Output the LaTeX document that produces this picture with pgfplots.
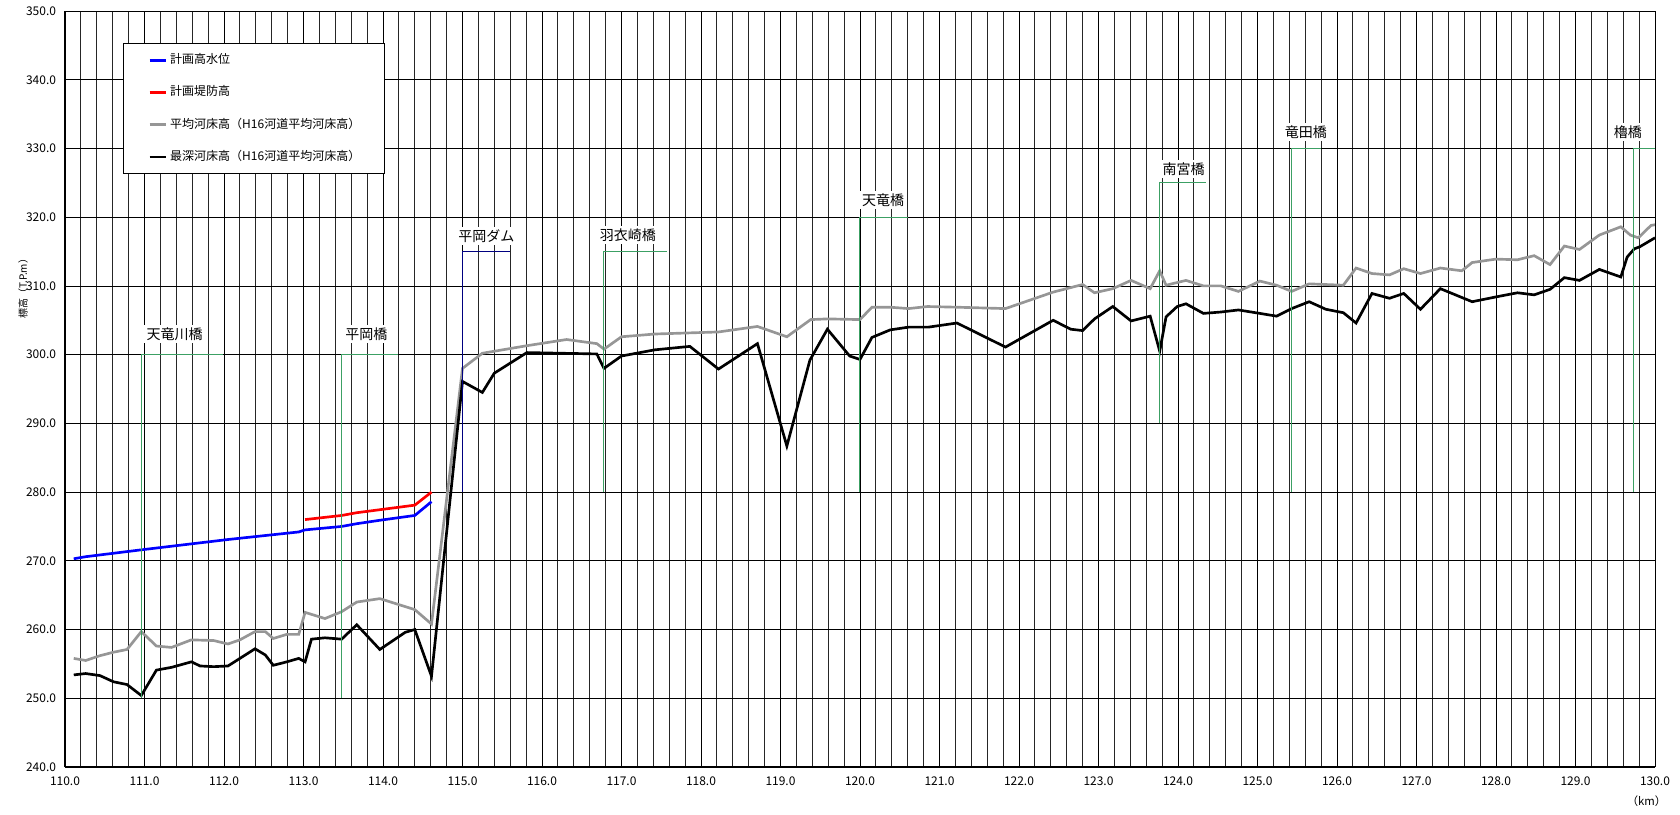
\documentclass[border=0pt]{standalone}
\usepackage{fontspec}
\setmainfont{Noto Sans CJK JP}
\usepackage{pgfplots}
\pgfplotsset{compat=1.18}
\definecolor{bedgray}{RGB}{150,150,150}
\definecolor{bridgegreen}{RGB}{60,160,100}
\definecolor{damnavy}{RGB}{0,0,128}

\begin{document}
\begin{tikzpicture}
\path[use as bounding box] (-48.75pt,-35.25pt) rectangle (1211.25pt,575.25pt);
\begin{axis}[
  scale only axis, width=1192.5pt, height=567pt,
  xmin=110, xmax=130, ymin=240, ymax=350,
  xtick={110,111,...,130}, minor x tick num=4,
  ytick={240,250,...,350},
  xmajorgrids, xminorgrids, ymajorgrids,
  major grid style={black, line width=0.6pt},
  minor grid style={black!85, line width=0.65pt},
  axis x line*=bottom, axis y line*=left,
  axis line style={black, line width=1.2pt, -},
  tick style={draw=none},
  xticklabel={\pgfmathprintnumber[fixed,fixed zerofill,precision=1,assume math mode=true]{\tick}},
  yticklabel={\pgfmathprintnumber[fixed,fixed zerofill,precision=1,assume math mode=true]{\tick}},
  ticklabel style={font=\fontsize{9}{10}\selectfont},
  xticklabel style={anchor=north, inner sep=0pt, yshift=-7.2pt},
  yticklabel style={anchor=east, inner sep=0pt, xshift=-6.5pt},
  xlabel={（km）},
  every axis x label/.style={at={(axis description cs:1,0)}, anchor=east, xshift=12pt, yshift=-25.5pt, font=\fontsize{8.5}{10}\selectfont},
  ylabel={標高（T.P.m）},
  every axis y label/.style={at={(axis description cs:-0.0264,0.636)}, rotate=90, anchor=center, font=\fontsize{7.5}{9}\selectfont},
  legend cell align=left,
  legend image code/.code={\draw[#1, line width=2pt] (0pt,0pt) -- (12pt,0pt);},
  legend style={at={(axis cs:110.73,345.34)}, anchor=north west,
    draw=black, line width=0.75pt, fill=white,
    font=\fontsize{9}{11}\selectfont,
    inner xsep=18.5pt, inner ysep=8pt, row sep=15.2pt, column sep=2.5pt,
    nodes={inner sep=0pt, text height=7pt, text depth=2pt}},
]

% 計画高水位
\addplot[blue, line width=2pt] coordinates {
(110.11,270.3) (110.26,270.6) (110.96,271.6) (112.05,273.1) (112.94,274.2)
(113.02,274.5) (113.48,275.0) (113.67,275.4) (113.96,275.9) (114.40,276.6)
(114.61,278.6)};
\addlegendentry{計画高水位}

% 計画堤防高
\addplot[red, line width=2pt] coordinates {
(113.02,276.0) (113.48,276.6) (113.67,277.0) (114.40,278.1) (114.61,280.0)};
\addlegendentry{計画堤防高}

% 平均河床高
\addplot[bedgray, line width=2pt] coordinates {
(110.11,255.8) (110.26,255.5) (110.44,256.2) (110.61,256.7) (110.78,257.1)
(110.96,259.7) (111.15,257.6) (111.34,257.4) (111.59,258.5) (111.87,258.4)
(112.05,257.9) (112.20,258.5) (112.39,259.7) (112.52,259.7) (112.62,258.7)
(112.79,259.3) (112.94,259.3) (113.02,262.5) (113.27,261.6) (113.48,262.6)
(113.67,264.0) (113.96,264.5) (114.40,262.9) (114.61,260.8) (115.00,298.0)
(115.25,300.2) (115.81,301.3) (116.31,302.2) (116.69,301.6) (116.78,300.8)
(117.00,302.6) (117.42,303.0) (118.22,303.3) (118.71,304.1) (119.08,302.6)
(119.38,305.1) (119.59,305.2) (120.00,305.1) (120.15,306.9) (120.38,306.9)
(120.61,306.7) (120.85,307.0) (121.22,306.9) (121.83,306.7) (122.43,309.1)
(122.80,310.2) (122.95,309.0) (123.18,309.6) (123.41,310.8) (123.65,309.6)
(123.77,312.2) (123.85,310.1) (124.10,310.8) (124.32,310.0) (124.54,310.0)
(124.76,309.2) (125.03,310.7) (125.24,310.1) (125.43,309.2) (125.65,310.3)
(125.86,310.2) (126.08,310.1) (126.24,312.6) (126.44,311.8) (126.66,311.6)
(126.84,312.5) (127.05,311.8) (127.30,312.6) (127.57,312.2) (127.70,313.4)
(128.00,313.9) (128.27,313.8) (128.48,314.4) (128.68,313.1) (128.86,315.8)
(129.05,315.3) (129.30,317.4) (129.57,318.6) (129.69,317.4) (129.79,317.0)
(129.95,318.8) (130.00,318.9)};
\addlegendentry{平均河床高（H16河道平均河床高）}

% 最深河床高
\addplot[black, line width=2pt] coordinates {
(110.11,253.4) (110.26,253.6) (110.44,253.3) (110.61,252.4) (110.78,252.0)
(110.96,250.4) (111.15,254.1) (111.34,254.5) (111.59,255.3) (111.70,254.7)
(111.87,254.6) (112.05,254.7) (112.20,255.8) (112.39,257.2) (112.52,256.3)
(112.62,254.8) (112.79,255.3) (112.94,255.8) (113.02,255.3) (113.10,258.6)
(113.27,258.8) (113.48,258.6) (113.67,260.7) (113.96,257.1) (114.28,259.6)
(114.40,260.0) (114.61,253.2) (115.00,296.1) (115.25,294.5) (115.40,297.3)
(115.81,300.3) (116.69,300.1) (116.78,298.0) (117.00,299.8) (117.42,300.7)
(117.86,301.2) (118.22,297.9) (118.71,301.6) (119.08,286.7) (119.37,299.2)
(119.59,303.7) (119.87,299.8) (120.00,299.3) (120.15,302.5) (120.38,303.6)
(120.61,304.0) (120.86,304.0) (121.22,304.6) (121.83,301.1) (122.43,305.0)
(122.65,303.7) (122.80,303.5) (122.95,305.2) (123.18,307.0) (123.41,304.9)
(123.65,305.6) (123.77,300.5) (123.85,305.5) (123.99,307.0) (124.10,307.4)
(124.32,306.0) (124.54,306.2) (124.76,306.5) (125.03,306.0) (125.24,305.6)
(125.43,306.7) (125.65,307.7) (125.86,306.6) (126.08,306.1) (126.24,304.6)
(126.44,308.9) (126.66,308.2) (126.84,308.9) (127.05,306.6) (127.30,309.6)
(127.70,307.7) (128.00,308.4) (128.27,309.0) (128.48,308.7) (128.68,309.5)
(128.86,311.2) (129.05,310.8) (129.30,312.4) (129.57,311.3) (129.65,314.2)
(129.74,315.4) (129.81,315.7) (130.00,317.0)};
\addlegendentry{最深河床高（H16河道平均河床高）}

% bridge / dam markers
\addplot[bridgegreen, line width=0.75pt, forget plot] coordinates {(110.96,250) (110.96,300) (111.99,300)};
\addplot[bridgegreen, line width=0.75pt, forget plot] coordinates {(113.48,250) (113.48,300) (114.19,300)};
\addplot[damnavy, line width=0.75pt, forget plot] coordinates {(115.00,280) (115.00,315) (115.60,315)};
\addplot[bridgegreen, line width=0.75pt, forget plot] coordinates {(116.77,280) (116.77,315) (117.57,315)};
\addplot[bridgegreen, line width=0.75pt, forget plot] coordinates {(120.00,280) (120.00,320) (120.61,320)};
\addplot[bridgegreen, line width=0.75pt, forget plot] coordinates {(123.77,290) (123.77,325) (124.35,325)};
\addplot[bridgegreen, line width=0.75pt, forget plot] coordinates {(125.43,280) (125.43,330) (125.80,330)};
\addplot[bridgegreen, line width=0.75pt, forget plot] coordinates {(129.73,280) (129.73,330) (130.00,330)};

\begin{scope}[every node/.style={fill=white, inner xsep=2.5pt, inner ysep=2pt, font=\fontsize{10.5}{12}\selectfont}]
\node at (axis cs:111.38,303.0) {天竜川橋};
\node at (axis cs:113.79,303.0) {平岡橋};
\node at (axis cs:115.30,317.3) {平岡ダム};
\node at (axis cs:117.08,317.4) {羽衣崎橋};
\node at (axis cs:120.29,322.5) {天竜橋};
\node at (axis cs:124.07,327.0) {南宮橋};
\node at (axis cs:125.61,332.4) {竜田橋};
\node at (axis cs:129.66,332.4) {櫓橋};
\end{scope}

\end{axis}
\end{tikzpicture}
\end{document}
